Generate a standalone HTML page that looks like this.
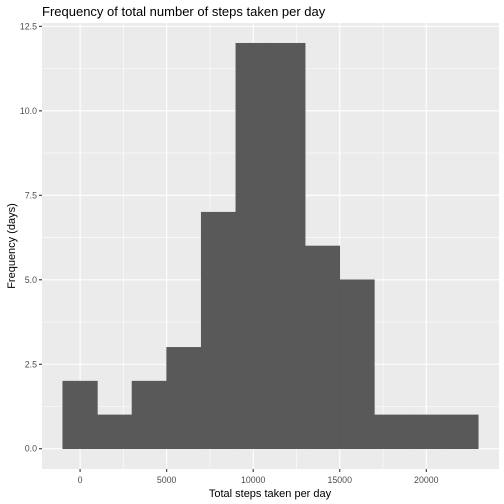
<!DOCTYPE html>
<html><head><meta charset="utf-8"><style>
body{margin:0;background:#fff}
svg{display:block;font-family:"Liberation Sans",Arial,sans-serif}
</style></head><body>
<svg id="chart" width="504" height="504">
<rect width="504" height="504" fill="#fff"/>
<text x="42" y="16" font-size="13" fill="#000">Frequency of total number of steps taken per day</text>
<rect x="42" y="23" width="457" height="446" fill="#ebebeb"/>
<g id="grid"></g><g id="bars"></g><g id="axes"></g>
<text x="270" y="497" font-size="11" text-anchor="middle">Total steps taken per day</text>
<text transform="translate(15,246) rotate(-90)" font-size="11" text-anchor="middle">Frequency (days)</text>
</svg>
<script>
const binCenters=[0,2000,4000,6000,8000,10000,12000,14000,16000,18000,20000,22000];
const counts=[2,1,2,3,7,12,12,6,5,1,1,1];
const xTicks=[0,5000,10000,15000,20000];
const yTicks=[0,2.5,5,7.5,10,12.5];
const yLabels=["0.0","2.5","5.0","7.5","10.0","12.5"];
const binWidth=2000;
const L=42,R=499,T=23,B=469;
const x=v=>L+(v+2200)/26400*(R-L);
const y=v=>B-(v+0.6)/13.2*(B-T);
const NS="http://www.w3.org/2000/svg";
function mk(tag,attrs,parent,text){const e=document.createElementNS(NS,tag);for(const k in attrs)e.setAttribute(k,attrs[k]);if(text!==undefined)e.textContent=text;parent.appendChild(e);return e;}
const grid=document.getElementById('grid'),bars=document.getElementById('bars'),axes=document.getElementById('axes');
for(let i=0;i<xTicks.length;i++){
  const v=xTicks[i];
  if(i<xTicks.length-1){const m=mk('line',{x1:x(v+2500),x2:x(v+2500),y1:T,y2:B,stroke:'#fff','stroke-width':0.55},grid);
  }
  const g=mk('line',{x1:x(v),x2:x(v),y1:T,y2:B,stroke:'#fff','stroke-width':1.1},grid);
  
  const t=mk('line',{x1:x(v),x2:x(v),y1:B,y2:B+3,stroke:'#333','stroke-width':1.1},axes);
  
  const l=mk('text',{x:x(v),y:B+14,'font-size':8.8,fill:'#4d4d4d','text-anchor':'middle'},axes,String(v));
  
}
for(let i=0;i<yTicks.length;i++){
  const v=yTicks[i];
  if(i<yTicks.length-1){const m=mk('line',{x1:L,x2:R,y1:y(v+1.25),y2:y(v+1.25),stroke:'#fff','stroke-width':0.55},grid);
  }
  const g=mk('line',{x1:L,x2:R,y1:y(v),y2:y(v),stroke:'#fff','stroke-width':1.1},grid);
  
  const t=mk('line',{x1:L-3,x2:L,y1:y(v),y2:y(v),stroke:'#333','stroke-width':1.1},axes);
  
  const l=mk('text',{x:L-5,y:y(v)+3,'font-size':8.8,fill:'#4d4d4d','text-anchor':'end'},axes,yLabels[i]);
  
}
for(let i=0;i<binCenters.length;i++){
  const c=binCenters[i];
  const r=mk('rect',{x:x(c-binWidth/2),y:y(counts[i]),width:x(c+binWidth/2)-x(c-binWidth/2),height:y(0)-y(counts[i]),fill:'#595959',stroke:'#595959','stroke-width':0.6},bars);
  
}
</script>
</body></html>
